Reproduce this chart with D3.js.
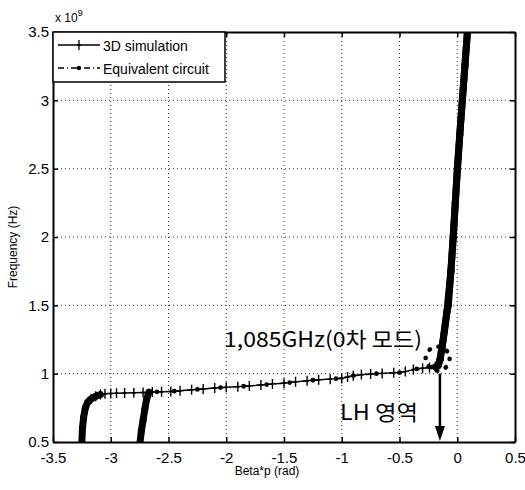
<!DOCTYPE html>
<html>
<head>
<meta charset="utf-8">
<script src="https://cdn.jsdelivr.net/npm/d3@7"></script>
<style>
	body { margin: 0; background: #fff; }
	svg { font-family: "Liberation Sans", Arial, sans-serif; }
	.kr { font-family: "Noto Sans CJK KR", "Liberation Sans", sans-serif; }
</style>
</head>
<body>
<div id="chart"></div>
<script>
// 3D simulation (beta*p in rad, frequency in GHz)
const simBeta = [-3.25, -3.245, -3.235, -3.22, -3.20, -3.17, -3.13, -3.09, -3.05, -3.00, -2.95, -2.88, -2.80, -2.72, -2.64, -2.56, -2.48,
	-2.40, -2.30, -2.20, -2.10, -2.00, -1.90, -1.80, -1.70, -1.60, -1.50, -1.40, -1.30, -1.20, -1.10, -1.00,
	-0.95, -0.90, -0.83, -0.75, -0.65, -0.55, -0.45, -0.38, -0.30, -0.24, -0.19, -0.165, -0.15, -0.13, -0.11, -0.09,
	-0.077, -0.055, -0.034, -0.017, 0.00, 0.022, 0.044, 0.066, 0.088];
const simFreq = [0.50, 0.60, 0.68, 0.75, 0.79, 0.815, 0.835, 0.847, 0.853, 0.855, 0.857, 0.858, 0.86, 0.862, 0.865, 0.867, 0.87,
	0.875, 0.882, 0.888, 0.895, 0.90, 0.905, 0.91, 0.917, 0.925, 0.93, 0.94, 0.948, 0.955, 0.96, 0.965,
	0.975, 0.985, 0.993, 0.998, 1.002, 1.006, 1.015, 1.03, 1.04, 1.045, 1.05, 1.06, 1.10, 1.20, 1.32, 1.45,
	1.50, 1.75, 2.00, 2.25, 2.50, 2.75, 3.00, 3.25, 3.50];

// Equivalent circuit
const eqBeta = [-2.746, -2.735, -2.72, -2.705, -2.69, -2.67, -2.60, -2.45, -2.25, -2.05, -1.85, -1.65, -1.45, -1.25, -1.05,
	-0.90, -0.70, -0.50, -0.35, -0.22, -0.165, -0.15, -0.13, -0.09, -0.055, -0.017, 0.022, 0.066, 0.088];
const eqFreq = [0.50, 0.58, 0.66, 0.74, 0.81, 0.865, 0.867, 0.872, 0.885, 0.898, 0.908, 0.92, 0.935, 0.952, 0.963,
	0.985, 1.0, 1.008, 1.035, 1.048, 1.06, 1.10, 1.20, 1.45, 1.75, 2.25, 2.75, 3.25, 3.50];

const xTicks = [-3.5, -3, -2.5, -2, -1.5, -1, -0.5, 0, 0.5];
const yTicks = [0.5, 1, 1.5, 2, 2.5, 3, 3.5];
const legendLabels = ["3D simulation", "Equivalent circuit"];

const width = 525, height = 490;
const margin = {left: 53, right: 10, top: 32, bottom: 48};

const x = d3.scaleLinear().domain([-3.5, 0.5]).range([margin.left, width - margin.right]);
const y = d3.scaleLinear().domain([0.5, 3.5]).range([height - margin.bottom, margin.top]);

const svg = d3.select("#chart").append("svg")
	.attr("width", width)
	.attr("height", height);

svg.append("defs").append("clipPath").attr("id", "clip")
	.append("rect")
		.attr("x", margin.left).attr("y", margin.top)
		.attr("width", x(0.5) - x(-3.5)).attr("height", y(0.5) - y(3.5));

// Grid
const grid = svg.append("g").attr("stroke", "#333").attr("stroke-width", 1).attr("stroke-dasharray", "1,3");
grid.selectAll(".vx").data(xTicks.slice(1, -1)).enter().append("line")
	.attr("x1", (d) => x(d)).attr("x2", (d) => x(d))
	.attr("y1", y(0.5)).attr("y2", y(3.5));
grid.selectAll(".hy").data(yTicks.slice(1, -1)).enter().append("line")
	.attr("x1", x(-3.5)).attr("x2", x(0.5))
	.attr("y1", (d) => y(d)).attr("y2", (d) => y(d));

// Axes (MATLAB style, inner ticks on all sides)
const fmt = (d) => String(d);
svg.append("g").attr("transform", `translate(0,${y(0.5)})`)
	.call(d3.axisBottom(x).tickValues(xTicks).tickFormat(fmt).tickSizeInner(-5).tickSizeOuter(0).tickPadding(10));
svg.append("g").attr("transform", `translate(0,${y(3.5)})`)
	.call(d3.axisTop(x).tickValues(xTicks).tickFormat("").tickSizeInner(-5).tickSizeOuter(0));
svg.append("g").attr("transform", `translate(${x(-3.5)},0)`)
	.call(d3.axisLeft(y).tickValues(yTicks).tickFormat(fmt).tickSizeInner(-5).tickSizeOuter(0).tickPadding(4));
svg.append("g").attr("transform", `translate(${x(0.5)},0)`)
	.call(d3.axisRight(y).tickValues(yTicks).tickFormat("").tickSizeInner(-5).tickSizeOuter(0));

svg.selectAll(".domain").attr("stroke", "#000").attr("stroke-width", 2);
svg.selectAll(".tick line").attr("stroke", "#000").attr("stroke-width", 1.5);
svg.selectAll(".tick text").attr("fill", "#000").attr("font-size", 15)
	.attr("font-family", "'Liberation Sans', Arial, sans-serif");

svg.append("text").attr("x", margin.left + 2).attr("y", 22)
	.attr("font-size", 12).text("x 10")
	.append("tspan").attr("dy", -6).attr("font-size", 9).text("9");

svg.append("text")
	.attr("transform", `translate(17,${(y(0.5) + y(3.5)) / 2 + 10}) rotate(-90)`)
	.attr("text-anchor", "middle").attr("font-size", 12)
	.text("Frequency (Hz)");

svg.append("text").attr("x", 267).attr("y", 475)
	.attr("text-anchor", "middle").attr("font-size", 12)
	.text("Beta*p (rad)");

// Series
const sim = simBeta.map((b, i) => [b, simFreq[i]]);
const eq = eqBeta.map((b, i) => [b, eqFreq[i]]);

const plot = svg.append("g").attr("clip-path", "url(#clip)");

// draw a series segment by segment; steep parts are thick because the markers pile up there
const drawSeries = (pts, dash) => {
	const g = plot.append("g");
	pts.slice(1).forEach((p, i) => {
		const a = pts[i];
		const dx = Math.abs(x(p[0]) - x(a[0])), dy = Math.abs(y(p[1]) - y(a[1]));
		const steep = dy > dx * 0.3;
		g.append("line")
			.attr("x1", x(a[0])).attr("y1", y(a[1]))
			.attr("x2", x(p[0])).attr("y2", y(p[1]))
			.attr("stroke", "#000")
			.attr("stroke-linecap", "round")
			.attr("stroke-width", steep ? 7 : 1.4)
			.attr("stroke-dasharray", steep ? null : dash);
	});
	return g;
};

drawSeries(eq, "6,3,1,3");
drawSeries(sim, null);

plot.append("g").selectAll("circle").data(eq).enter().append("circle")
	.attr("cx", (d) => x(d[0])).attr("cy", (d) => y(d[1])).attr("r", 2.4).attr("fill", "#000");

plot.append("g").selectAll("path").data(sim).enter().append("path")
	.attr("d", (d) => `M${x(d[0]) - 2},${y(d[1])}h4M${x(d[0])},${y(d[1]) - 5}v10`)
	.attr("stroke", "#000").attr("stroke-width", 1.4);

// Legend
const leg = svg.append("g");
leg.append("rect").attr("x", x(-3.5)).attr("y", y(3.5))
	.attr("width", 172).attr("height", 50)
	.attr("fill", "#fff").attr("stroke", "#000").attr("stroke-width", 1.5);
leg.append("line").attr("x1", 58).attr("x2", 100).attr("y1", 45).attr("y2", 45)
	.attr("stroke", "#000").attr("stroke-width", 1.3);
leg.append("path").attr("d", "M77,45h4M79,40v10").attr("stroke", "#000").attr("stroke-width", 1.3);
leg.append("line").attr("x1", 58).attr("x2", 100).attr("y1", 68).attr("y2", 68)
	.attr("stroke", "#000").attr("stroke-width", 1.3).attr("stroke-dasharray", "6,3,1,3");
leg.append("circle").attr("cx", 79).attr("cy", 68).attr("r", 2.2).attr("fill", "#000");
leg.selectAll("text").data(legendLabels).enter().append("text")
	.attr("x", 103).attr("y", (d, i) => 51 + i * 23)
	.attr("font-size", 14).text((d) => d);

// Annotations
svg.append("text").attr("class", "kr").attr("x", 224).attr("y", 347)
	.attr("font-size", 21).attr("textLength", 198).attr("lengthAdjust", "spacingAndGlyphs")
	.text("1,085GHz(0차 모드)");

svg.append("circle").attr("cx", x(-0.17)).attr("cy", y(1.11)).attr("r", 12)
	.attr("fill", "none").attr("stroke", "#000").attr("stroke-width", 4.5)
	.attr("stroke-linecap", "round").attr("stroke-dasharray", "0.5,9");

svg.append("line").attr("x1", x(-0.15)).attr("x2", x(-0.15))
	.attr("y1", y(1.0)).attr("y2", y(0.5) - 14)
	.attr("stroke", "#000").attr("stroke-width", 2.5);
svg.append("path")
	.attr("d", `M${x(-0.15) - 5},${y(0.5) - 16}L${x(-0.15) + 5},${y(0.5) - 16}L${x(-0.15)},${y(0.5) - 1}Z`)
	.attr("fill", "#000");

svg.append("text").attr("class", "kr").attr("x", 340).attr("y", 420)
	.attr("font-size", 21).attr("textLength", 78).attr("lengthAdjust", "spacingAndGlyphs")
	.text("LH 영역");
</script>
</body>
</html>
